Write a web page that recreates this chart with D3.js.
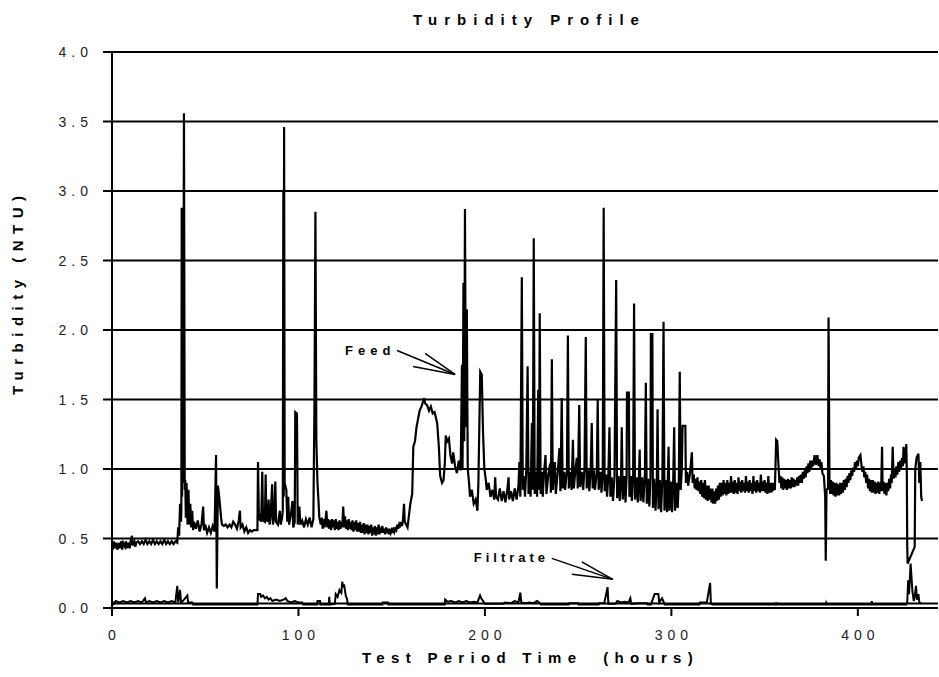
<!DOCTYPE html>
<html>
<head>
<meta charset="utf-8">
<script src="https://cdnjs.cloudflare.com/ajax/libs/d3/7.8.5/d3.min.js"></script>
<style>
  body { margin: 0; background: #fff; }
  text { font-family: "Liberation Sans", Arial, sans-serif; }
</style>
</head>
<body>
<div id="graphic"></div>
<script>
/*** DATA (hours, NTU) ***/
var feed = [
  [0,0.47],[0.5,0.42],[1,0.48],[1.5,0.43],[2,0.47],[3,0.42],[3.5,0.47],[4,0.43],[5,0.48],[5.5,0.42],
  [6,0.47],[7,0.44],[7.5,0.48],[8,0.43],[9,0.47],[9.5,0.43],[10,0.48],[10.7,0.52],[11,0.45],[12,0.48],
  [12.5,0.44],[13,0.47],[14,0.48],[15,0.46],[16,0.48],[17,0.46],[18,0.49],[19,0.46],[20,0.48],[21,0.46],
  [22,0.49],[23,0.46],[24,0.48],[25,0.46],[26,0.48],[27,0.46],[28,0.49],[29,0.46],[30,0.48],[31,0.46],
  [32,0.48],[33,0.46],[34,0.48],[35,0.47],[35.5,0.58],[36,0.52],[36.5,0.75],[37,0.62],[37.2,0.7],[37.4,2.88],
  [37.6,0.8],[37.8,2.85],[38.1,0.9],[38.6,3.56],[39,0.85],[39.3,0.92],[39.6,0.65],[40,0.9],[40.5,0.6],[41,0.85],
  [41.5,0.6],[42,0.75],[42.5,0.58],[43,0.7],[43.5,0.56],[44,0.62],[45,0.57],[46,0.63],[47,0.55],[48,0.6],
  [48.9,0.73],[49.3,0.56],[50,0.6],[51,0.54],[52,0.58],[53,0.54],[54,0.59],[55,0.55],[55.8,1.10],[56.2,0.14],
  [56.8,0.88],[57.5,0.8],[58.5,0.65],[59,0.6],[60,0.59],[61,0.6],[62,0.58],[63,0.6],[64,0.58],[65,0.62],
  [66,0.6],[67,0.57],[68,0.63],[68.6,0.70],[69,0.58],[70,0.6],[71,0.55],[72,0.58],[73,0.54],[74,0.56],
  [75,0.55],[76,0.56],[78,0.56],[78.3,1.05],[78.8,0.63],[79.5,0.68],[80,0.62],[80.6,0.98],[81,0.63],[82,0.62],
  [82.4,0.96],[82.8,0.64],[83.5,0.62],[84,0.78],[84.5,0.6],[85,0.65],[85.9,0.89],[86.3,0.6],[87,0.65],[87.6,0.91],
  [88,0.62],[89,0.6],[90,0.7],[90.5,0.6],[91.2,0.65],[91.6,0.7],[91.9,3.0],[92.1,0.8],[92.3,3.46],[92.6,0.9],
  [93.5,0.85],[94,0.62],[94.5,0.8],[95,0.6],[96,0.68],[96.8,0.77],[97.2,0.58],[98,0.62],[98.3,1.41],[99.2,1.40],
  [99.6,0.6],[100.5,0.73],[101,0.6],[102,0.63],[103,0.58],[104,0.64],[105,0.6],[106,0.65],[107,0.58],[108,0.64],
  [108.6,1.5],[109.1,2.85],[109.6,1.2],[110.2,0.9],[110.7,0.78],[111.2,0.65],
  [112,0.6],[112.5,0.65],[113,0.57],[113.5,0.64],[114,0.58],[114.5,0.63],[115,0.7],[115.5,0.58],[116,0.64],[116.5,0.57],
  [117,0.63],[117.5,0.56],[118,0.64],[118.5,0.58],[119,0.63],[119.5,0.56],[120,0.64],[120.5,0.57],[121,0.62],[121.5,0.56],
  [122,0.63],[122.5,0.57],[123,0.62],[123.5,0.58],[124,0.73],[124.5,0.58],[125,0.66],[125.5,0.57],[126,0.63],[126.5,0.56],
  [127,0.64],[127.5,0.57],[128,0.62],[128.5,0.56],[129,0.63],[129.5,0.55],[130,0.62],[130.5,0.56],[131,0.63],[131.5,0.55],
  [132,0.61],[132.5,0.55],[133,0.62],[133.5,0.54],[134,0.6],[134.5,0.54],[135,0.61],[135.5,0.53],[136,0.6],[136.5,0.54],
  [137,0.6],[137.5,0.53],[138,0.59],[138.5,0.54],[139,0.6],[139.5,0.52],[140,0.58],[140.5,0.53],[141,0.59],[141.5,0.52],
  [142,0.58],[142.5,0.53],[143,0.6],[143.5,0.53],[144,0.58],[144.5,0.54],[145,0.59],[145.5,0.54],[146,0.57],[146.5,0.53],
  [147,0.58],[147.5,0.54],[148,0.57],[148.5,0.53],[149,0.57],[149.5,0.54],[150,0.56],[150.5,0.54],[151,0.58],[151.5,0.55],
  [152,0.57],[152.5,0.56],[153,0.6],[153.5,0.57],[154,0.6],[154.5,0.58],[155,0.62],[155.5,0.59],[156,0.62],
  [156.6,0.75],[157,0.62],[158.5,0.58],[160,0.75],[161,0.82],[161.6,1.16],[162.5,1.2],
  [163.3,1.3],[164,1.35],[165,1.42],[166,1.45],[167.4,1.51],[168,1.47],[169,1.46],[170,1.42],[171,1.45],[172,1.4],
  [173,1.41],[174.4,1.33],[175.3,1.16],[176,0.95],[177,0.9],[177.8,0.92],[178.5,1.04],[179,1.24],[179.8,1.2],[180.7,1.22],
  [181.5,1.1],[182.4,1.04],[183,1.12],[184,1.02],[185,0.97],[186,1.06],[187,0.99],[187.7,1.75],[188,1.0],[188.5,2.34],
  [188.9,1.2],[189.3,2.87],[189.8,1.3],[190.3,2.15],[190.8,1.0],[191.5,0.9],[192,0.8],[193,0.85],[194,0.75],[195,0.78],
  [196,0.7],[196.5,0.9],[197.5,1.7],[198.3,1.68],[199,1.26],[199.7,1.0],[200.5,0.92],[201,0.85],[202,0.9],[203,0.8],
  [204,0.85],[205,0.78],[205.5,0.94],[206,0.8],[207,0.78],[208,0.86],[209,0.77],[210,0.84],[211,0.76],[212,0.85],
  [212.7,0.94],[213,0.78],[214,0.84],[215,0.77],[216,0.86],[217,0.78],[218,0.88],[218.5,1.05],[219,0.8],[219.8,2.38],
  [220.3,0.85],[221,0.95],[221.5,0.8],[222.2,1.0],[222.9,1.74],[223.4,0.82],[224,0.98],[224.5,0.8],[225.2,1.33],[225.7,0.85],
  [226.2,2.66],[226.7,0.82],[227.5,0.98],[228,0.8],[228.6,1.57],[229,0.85],[229.4,2.12],[229.9,0.82],[230.5,0.98],[231,0.8],
  [231.7,0.97],[232.5,1.1],[233,0.82],[234,0.96],[235,1.04],[235.4,0.83],[235.9,1.79],[236.4,0.85],[237,0.98],[237.5,1.05],
  [238,0.82],[239,0.97],[240,1.15],[240.5,0.84],[241.2,1.51],[241.7,0.86],[242.5,0.98],[243,0.85],[244,0.99],[244.5,1.96],
  [245,0.86],[246,0.98],[246.5,0.85],[247.2,1.21],[247.7,0.86],[248.5,0.99],[249.3,1.08],[249.8,0.86],[250.6,1.46],[251.1,0.87],
  [252,0.98],[252.7,0.85],[253.4,1.0],[254.1,1.95],[254.6,0.86],[255.5,0.99],[256,0.84],[256.7,0.98],[257.3,1.33],[257.8,0.86],
  [258.5,0.99],[259,0.85],[260,0.97],[260.5,1.5],[261,0.85],[262,0.98],[262.5,0.83],[263.2,0.97],[263.7,2.88],[264.2,0.84],
  [265,0.96],[265.5,0.8],[266.2,0.95],[266.8,1.3],[267.3,0.8],[268,0.94],[268.7,0.77],[269.5,0.95],[270.4,2.36],[270.9,0.79],
  [271.7,0.95],[272.3,0.77],[273,0.93],[273.4,1.3],[273.9,0.78],[274.8,0.95],[275.4,0.76],[276,0.95],[276.2,1.55],[277.2,1.55],
  [277.5,0.8],[278.3,0.95],[278.8,0.77],[279.5,0.96],[280,2.19],[280.5,0.78],[281.3,0.94],[282,0.76],[282.6,0.95],[283,1.14],
  [283.5,0.77],[284.3,0.94],[285,0.76],[285.8,0.97],[286.3,1.62],[286.8,0.75],[287.5,0.93],[288.2,0.73],[288.8,0.95],[289,1.97],
  [289.8,1.97],[290.1,0.72],[290.8,0.93],[291.5,0.7],[292.2,0.92],[292.6,1.43],[293.1,0.71],[293.8,0.92],[294.5,0.69],[295.2,0.94],
  [295.8,2.06],[296.3,0.7],[297,0.92],[297.7,0.69],[298.5,1.16],[299,0.7],[299.7,0.91],[300.4,0.69],[301,0.92],[301.5,1.30],
  [302,0.7],[302.8,0.9],[303.4,0.72],[304,0.92],[304.5,1.70],[305,0.85],[305.6,1.0],[306,1.31],[307.5,1.31],[307.8,0.9],
  [308.5,0.98],[309,0.88],[310,0.97],[311,1.12],
  [311.4,0.9],[312,0.96],[312.5,0.86],[313,0.93],[313.5,0.85],[314,0.94],[314.5,0.84],[315,0.91],[315.5,0.82],[316,0.92],
  [316.5,0.8],[317,0.9],[317.5,0.79],[318,0.92],[318.5,0.78],[319,0.88],[319.5,0.77],[320,0.88],[320.5,0.78],[321,0.86],
  [321.5,0.76],[322,0.86],[322.5,0.75],[323,0.84],[323.5,0.75],[324,0.86],[324.5,0.77],[325,0.88],[325.5,0.78],[326,0.9],
  [326.5,0.8],[327,0.9],[327.5,0.81],[328,0.92],[328.5,0.82],[329,0.9],[329.5,0.81],[330,0.92],[330.5,0.82],[331,0.9],
  [331.5,0.83],[332,0.95],[332.5,0.83],[333,0.91],[333.5,0.82],[334,0.92],[334.5,0.83],[335,0.9],[335.5,0.82],[336,0.94],
  [336.5,0.84],[337,0.91],[337.5,0.83],[338,0.92],[338.5,0.84],[339,0.9],[339.5,0.83],[340,0.95],[340.5,0.84],[341,0.91],
  [341.5,0.83],[342,0.92],[342.5,0.84],[343,0.9],[343.5,0.82],[344,0.95],[344.5,0.84],[345,0.91],[345.5,0.83],[346,0.92],
  [346.5,0.84],[347,0.9],[347.5,0.83],[348,0.96],[348.5,0.84],[349,0.91],[349.5,0.84],[350,0.92],[350.5,0.83],[351,0.9],
  [351.5,0.82],[352,0.95],[352.5,0.83],[353,0.9],[353.5,0.83],[354,0.9],[354.5,0.84],[355,0.9],[355.5,0.85],[355.7,0.95],
  [356.2,1.21],[356.8,1.2],[357.3,1.06],
  [358,0.9],[358.5,0.95],[359,0.86],[359.5,0.94],[360,0.85],[360.5,0.93],[361,0.86],[361.5,0.92],[362,0.85],[362.5,0.93],
  [363,0.86],[363.5,0.92],[364,0.86],[364.5,0.94],[365,0.87],[365.5,0.93],[366,0.87],[366.5,0.92],[367,0.88],[367.5,0.94],
  [368,0.88],[368.5,0.95],[369,0.9],[369.5,0.96],[370,0.9],[370.5,0.98],[371,0.93],[371.5,0.99],[372,0.94],[372.5,1.02],
  [373,0.97],[373.5,1.04],[374,0.98],[374.5,1.06],[375,1.0],[375.5,1.06],[376,1.02],[376.8,1.1],[377.5,1.03],[378.3,1.1],
  [379,1.02],[379.5,1.07],[380,1.0],[380.5,1.05],[381,0.97],[381.8,0.95],[382.5,0.8],[382.8,0.34],[383.2,0.85],[384,0.86],
  [384.3,2.09],[384.8,0.9],[385.2,0.82],[385.6,0.92],[386,0.82],[386.5,0.91],[387,0.81],[387.5,0.9],[388,0.8],[388.5,0.9],
  [389,0.81],[389.5,0.89],[390,0.81],[390.5,0.9],[391,0.82],[391.5,0.9],[392,0.83],[392.5,0.92],[393,0.85],[393.5,0.93],
  [394,0.87],[394.5,0.95],[395,0.9],[395.5,0.97],[396,0.92],[396.5,0.99],[397,0.95],[397.5,1.01],[398,0.98],[398.5,1.05],
  [399,1.0],[399.5,1.06],[400,1.02],[400.5,1.08],[401.4,1.1],[402,1.02],[402.5,0.98],[403,1.02],[403.5,0.94],[404,0.98],
  [404.5,0.9],[405,0.96],[405.5,0.86],[406,0.93],[406.5,0.84],[407,0.92],[407.5,0.83],[408,0.92],[408.5,0.83],[409,0.91],
  [409.5,0.82],[410,0.9],[410.5,0.83],[411,0.91],[411.5,0.82],[412,0.9],[412.5,0.84],[413,1.16],[413.3,0.84],[413.8,0.91],
  [414.3,0.82],[414.8,0.9],[415.3,0.81],[415.8,0.9],[416.3,0.84],[416.8,0.93],[417.3,0.86],[417.8,0.96],[418.2,0.9],[418.7,1.16],
  [419.2,0.93],[419.7,1.0],[420.2,0.94],[420.7,1.02],[421.2,0.96],[421.7,1.05],[422.2,0.98],[422.7,1.06],[423.2,1.0],[423.7,1.08],
  [424.2,1.02],[424.5,1.16],[425,1.04],[425.5,1.1],[426,1.18],
  [426.3,0.95],[426.5,0.45],[426.7,0.32],[430.5,0.44],[430.8,1.0],[431.5,1.08],[432.5,1.11],[433,0.9],[433.5,1.05],[434,0.8],
  [434.4,0.77]
];

var filtrate = [
  [0,0.05],[1,0.03],[2,0.05],[4,0.04],[6,0.05],[8,0.04],[10,0.05],[12,0.04],[14,0.05],[16,0.04],
  [17.7,0.07],[18.2,0.04],[20,0.05],[22,0.04],[24,0.05],[26,0.04],[28,0.05],[30,0.04],[32,0.05],[34,0.04],
  [35,0.16],[35.5,0.04],[36.5,0.13],[37,0.04],[38,0.05],[40.4,0.09],[40.8,0.04],[43,0.04],[43.5,0.025],[78,0.025],
  [78.3,0.1],[79.5,0.1],[80,0.08],[81,0.09],[82,0.07],[83,0.08],[84,0.06],[85,0.07],[86,0.05],[88,0.06],
  [90,0.05],[92,0.06],[93.2,0.07],[94,0.05],[96,0.04],[98,0.05],[100,0.04],[102,0.04],[102.5,0.025],[110,0.025],
  [110.2,0.05],[111.6,0.05],[111.8,0.025],[116.3,0.025],[116.5,0.08],[116.8,0.025],[119.5,0.03],[120,0.1],[121,0.08],[122,0.13],
  [123,0.11],[123.5,0.19],[124,0.15],[124.5,0.17],[125,0.12],[125.5,0.08],[126,0.07],[126.5,0.025],[145,0.025],[145.2,0.04],
  [148,0.04],[148.2,0.025],[178.5,0.025],[178.7,0.06],[180,0.045],[182,0.05],[184,0.04],[186,0.05],[188,0.04],[190,0.05],
  [192,0.04],[194,0.045],[196,0.04],[197.4,0.09],[198,0.07],[199,0.05],[200,0.03],[210,0.03],[210.5,0.04],[214,0.035],
  [216,0.05],[218,0.04],[219,0.11],[219.5,0.04],[222,0.035],[224,0.04],[226,0.035],[228,0.05],[229,0.04],[230,0.025],
  [245,0.025],[245.2,0.035],[250,0.035],[250.2,0.025],[261,0.025],[261.2,0.035],[264,0.035],[265.8,0.15],[266.2,0.03],[270,0.03],
  [271,0.05],[273,0.04],[275,0.045],[277,0.04],[278,0.07],[278.5,0.03],[283,0.035],[287,0.035],[287.2,0.025],[289,0.025],
  [289.3,0.035],[291,0.1],[293,0.1],[293.5,0.04],[295,0.07],[296,0.04],[296.5,0.025],[315,0.025],[315.3,0.04],[319,0.04],
  [320.8,0.18],[321.2,0.03],[322,0.025],[356,0.025],[356.2,0.04],[356.5,0.025],[383,0.025],[383.1,0.035],[383.4,0.025],[407.4,0.025],
  [407.5,0.05],[407.8,0.025],[413,0.025],[413.1,0.035],[413.3,0.025],[426,0.025],[426.5,0.04],[427,0.2],[427.5,0.1],[428.3,0.32],
  [428.8,0.22],[429.3,0.12],[430,0.05],[430.5,0.08],[431.2,0.16],[431.7,0.06],[432.5,0.1],[433,0.04],[434.4,0.03]
];

var yTicks = [0, 0.5, 1.0, 1.5, 2.0, 2.5, 3.0, 3.5, 4.0];
var xTicks = [0, 100, 200, 300, 400];

// annotation label + arrow tip, in data units
var feedNote = { label: "Feed", hour: 125, value: 1.82, tipHour: 184, tipValue: 1.68 };
var filtrateNote = { label: "Filtrate", hour: 194, value: 0.33, tipHour: 268.6, tipValue: 0.206 };

(function() {
  var margin = { top: 52, left: 112, right: 1, bottom: 69 },
  width = 939 - margin.left - margin.right,
  height = 677 - margin.top - margin.bottom;

  var svg = d3.select("#graphic")
        .append("svg")
        .attr("width", 939)
        .attr("height", 677)
        .append("g")
        .attr("transform", "translate(" + margin.left + "," + margin.top + ")");

  /*** SCALES ***/
  var x = d3.scaleLinear().domain([0, 443]).range([0, width]);
  var y = d3.scaleLinear().domain([0, 4]).range([height, 0]);

  /*** GRIDLINES + Y TICKS ***/
  svg.selectAll(".grid")
    .data(yTicks).enter().append("line")
    .attr("class", "grid")
    .attr("x1", -9).attr("x2", width)
    .attr("y1", function(d) { return y(d); })
    .attr("y2", function(d) { return y(d); })
    .attr("stroke", "#000")
    .attr("stroke-width", 2);

  svg.selectAll(".yLabel")
    .data(yTicks).enter().append("text")
    .attr("class", "yLabel")
    .attr("x", -19)
    .attr("y", function(d) { return y(d); })
    .attr("dy", "0.36em")
    .attr("text-anchor", "end")
    .style("font-size", "14px")
    .style("letter-spacing", "5px")
    .attr("fill", "#222")
    .text(function(d) { return d3.format(".1f")(d); });

  // plot frame bottom, just above the zero line
  svg.append("line")
    .attr("x1", 0).attr("x2", width)
    .attr("y1", height - 4.5).attr("y2", height - 4.5)
    .attr("stroke", "#000").attr("stroke-width", 1.8);

  /*** Y AXIS LINE ***/
  svg.append("line")
    .attr("x1", 0).attr("x2", 0)
    .attr("y1", y(4)).attr("y2", height)
    .attr("stroke", "#000").attr("stroke-width", 2);

  /*** X TICKS ***/
  svg.selectAll(".xTick")
    .data(xTicks).enter().append("line")
    .attr("class", "xTick")
    .attr("x1", function(d) { return x(d); })
    .attr("x2", function(d) { return x(d); })
    .attr("y1", height).attr("y2", height + 8)
    .attr("stroke", "#000").attr("stroke-width", 2);

  svg.selectAll(".xLabel")
    .data(xTicks).enter().append("text")
    .attr("class", "xLabel")
    .attr("x", function(d) { return x(d) + 2.5; })
    .attr("y", height + 32)
    .attr("text-anchor", "middle")
    .style("font-size", "14px")
    .style("letter-spacing", "5px")
    .attr("fill", "#222")
    .text(function(d) { return d; });

  /*** DATA LINES ***/
  var line = d3.line()
    .x(function(d) { return x(d[0]); })
    .y(function(d) { return y(d[1]); });

  svg.append("path")
    .attr("d", line(filtrate))
    .attr("fill", "none")
    .attr("stroke", "#000")
    .attr("stroke-width", 2);

  svg.append("path")
    .attr("d", line(feed))
    .attr("fill", "none")
    .attr("stroke", "#000")
    .attr("stroke-width", 2.2);

  /*** ANNOTATIONS ***/
  function annotate(n, spacing, tail, barbs) {
    svg.append("text")
      .attr("x", x(n.hour)).attr("y", y(n.value))
      .style("font-size", "13px")
      .style("font-weight", "bold")
      .style("letter-spacing", spacing + "px")
      .text(n.label);
    var tx = x(n.tipHour), ty = y(n.tipValue);
    [tail].concat(barbs).forEach(function(p) {
      svg.append("line")
        .attr("x1", tx + p[0]).attr("y1", ty + p[1])
        .attr("x2", tx).attr("y2", ty)
        .attr("stroke", "#000").attr("stroke-width", 1.5);
    });
  }
  annotate(feedNote, 5, [-58, -24], [[-42, -8], [-30, -21]]);
  annotate(filtrateNote, 4, [-61, -21], [[-41, -5], [-31, -17.5]]);

  /*** TITLES ***/
  d3.select("svg").append("text")
    .attr("x", 413).attr("y", 25)
    .style("font-size", "15px")
    .style("font-weight", "bold")
    .style("letter-spacing", "7px")
    .text("Turbidity Profile");

  d3.select("svg").append("text")
    .attr("x", 362).attr("y", 663)
    .style("font-size", "15px")
    .style("font-weight", "bold")
    .style("letter-spacing", "6.3px")
    .style("white-space", "pre")
    .text("Test Period Time  (hours)");

  d3.select("svg").append("text")
    .attr("transform", "translate(23,395) rotate(-90)")
    .style("font-size", "15px")
    .style("font-weight", "bold")
    .style("letter-spacing", "6.5px")
    .text("Turbidity (NTU)");
})();
</script>
</body>
</html>
